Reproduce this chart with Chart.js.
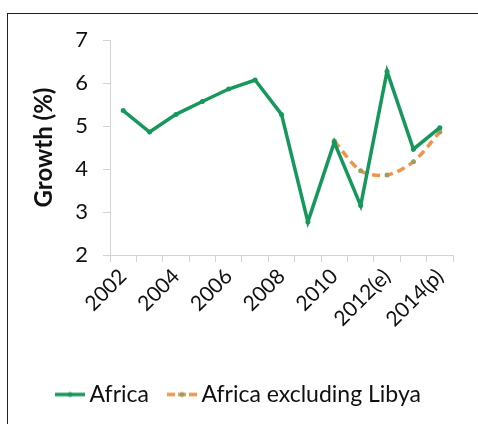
<!DOCTYPE html>
<html>
<head>
<meta charset="utf-8">
<script src="https://cdn.jsdelivr.net/npm/chart.js@4.4.1/dist/chart.umd.min.js"></script>
<style>
    body { margin: 0; background: #fff; }
    #wrap { position: relative; width: 478px; height: 424px; }
    #frame {
        position: absolute; left: 7px; top: 13px; right: -5px; bottom: -5px;
        border-left: 1.5px solid #222; border-top: 1.5px solid #222;
    }
    canvas { position: absolute; left: 0; top: 0; }
</style>
</head>
<body>
<div id="wrap">
    <div id="frame"></div>
    <canvas id="canvas" width="478" height="424"></canvas>
</div>
<script>
// values
const years = ["2002", "2003", "2004", "2005", "2006", "2007", "2008",
    "2009", "2010", "2011", "2012(e)", "2013(e)", "2014(p)"];
const africa = [5.36, 4.86, 5.27, 5.57, 5.86, 6.07, 5.27, 2.77, 4.62, 3.15, 6.27, 4.46, 4.96];
const africaExLibya = [null, null, null, null, null, null, null, null, 4.65, 3.96, 3.86, 4.17, 4.86];
const yTicks = [2, 3, 4, 5, 6, 7];

const green = "#16985c";
const orange = "#f3924a";
const olive = "#9aa061";
const font = "Lato, 'Open Sans', sans-serif";

// little legend swatches: line with a dot in the middle
function swatch(color, dotColor, dashed) {
    let c = document.createElement("canvas");
    c.width = 30;
    c.height = 8;
    let g = c.getContext("2d");
    g.strokeStyle = color;
    g.lineWidth = 3.5;
    if (dashed) g.setLineDash([8, 3]);
    g.beginPath();
    g.moveTo(0, 4);
    g.lineTo(30, 4);
    g.stroke();
    g.fillStyle = dotColor;
    g.beginPath();
    g.arc(15, 4, 2.5, 0, Math.PI * 2);
    g.fill();
    return c;
}
const swatches = [swatch(green, green, false), swatch(orange, olive, true)];

let ctx = document.getElementById("canvas").getContext("2d");

let chart = new Chart(ctx, {
    type: "line",
    data: {
        labels: years,
        datasets: [
            {
                label: "Africa",
                data: africa,
                borderColor: green,
                backgroundColor: green,
                borderWidth: 3.5,
                pointRadius: 2.5,
                pointBorderWidth: 0,
                tension: 0,
            },
            {
                label: "Africa excluding Libya",
                data: africaExLibya,
                borderColor: orange,
                backgroundColor: olive,
                borderWidth: 3.5,
                borderDash: [8, 5],
                pointRadius: 2.5,
                pointBorderWidth: 0,
                tension: 0.3,
            },
        ],
    },
    options: {
        responsive: false,
        animation: false,
        layout: { padding: { left: 30, right: 25, top: 40, bottom: 8 } },
        plugins: {
            tooltip: { enabled: false },
            legend: {
                position: "bottom",
                labels: {
                    usePointStyle: true,
                    pointStyleWidth: 16,
                    padding: 25,
                    color: "#111",
                    font: { family: font, size: 23 },
                    generateLabels: function (c) {
                        let items = Chart.defaults.plugins.legend.labels.generateLabels(c);
                        items.forEach((it, i) => { it.pointStyle = swatches[i]; });
                        return items;
                    },
                },
            },
        },
        scales: {
            x: {
                offset: true,
                afterFit: function (s) { s.height = 103; },
                border: { color: "#d4d4d4", width: 1 },
                grid: { offset: true, drawOnChartArea: false, drawTicks: true, tickLength: 7, color: "#d4d4d4" },
                ticks: {
                    autoSkip: false,
                    minRotation: 45,
                    maxRotation: 45,
                    padding: 2,
                    color: "#111",
                    font: { family: font, size: 21 },
                    callback: function (v, i) { return i % 2 === 0 ? years[i] : ""; },
                },
            },
            y: {
                min: yTicks[0],
                max: yTicks[yTicks.length - 1],
                afterFit: function (s) { s.width = 80; },
                border: { color: "#d4d4d4", width: 1 },
                grid: { drawOnChartArea: false, drawTicks: true, tickLength: 7, color: "#d4d4d4" },
                ticks: {
                    stepSize: 1,
                    padding: 15,
                    color: "#111",
                    font: { family: font, size: 22 },
                },
                title: {
                    display: true,
                    text: "Growth (%)",
                    color: "#111",
                    font: { family: font, size: 24, weight: "bold" },
                    padding: { top: 0, bottom: 6 },
                },
            },
        },
    },
});
</script>
</body>
</html>
